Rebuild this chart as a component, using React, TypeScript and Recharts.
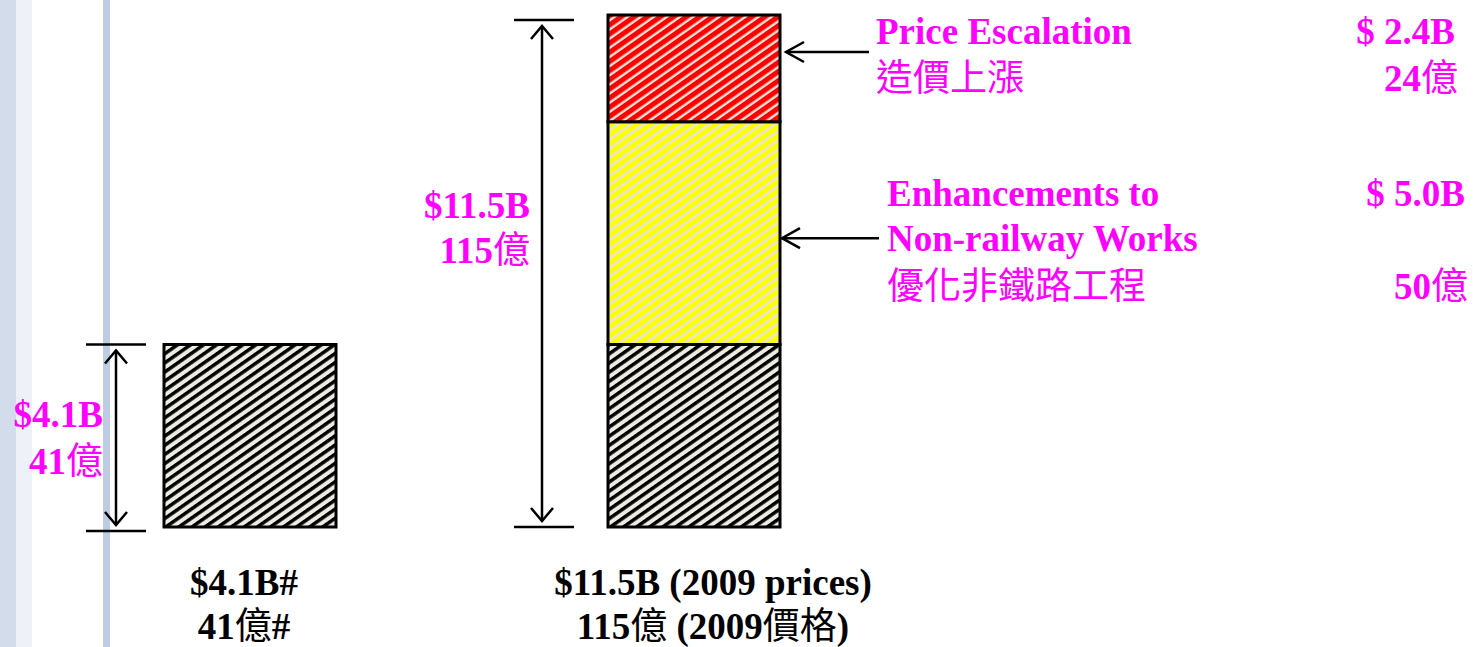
import React from 'react';
import { BarChart, Bar, XAxis, YAxis } from 'recharts';

// ---------- data ----------
const categories = ['$4.1B#', '$11.5B (2009 prices)'];
const categoriesZh = ['41億#', '115億 (2009價格)'];
const originalScope: (number | null)[] = [4.1, 4.1];
const enhancements: (number | null)[] = [null, 5.0];
const escalation: (number | null)[] = [null, 2.4];
const totals = [4.1, 11.5];
const totalLabelsEn = ['$4.1B', '$11.5B'];
const totalLabelsZh = ['41億', '115億'];
const escalationText = { en: ['Price Escalation'], zh: '造價上漲', valueEn: '$ 2.4B', valueZh: '24億' };
const enhancementText = { en: ['Enhancements to', 'Non-railway Works'], zh: '優化非鐵路工程', valueEn: '$ 5.0B', valueZh: '50億' };

const data = categories.map((name, i) => ({
  name,
  zh: categoriesZh[i],
  base: originalScope[i],
  enh: enhancements[i],
  esc: escalation[i],
  total: totals[i],
}));

// ---------- styles ----------
const FONT = '"Liberation Serif", "Times New Roman", "Noto Sans CJK TC", serif';
const MAGENTA = '#FF00FF';
const FS = 37;
const CJK = /[\u2e80-\u9fff\uf900-\ufaff\uff00-\uffef]/;

function splitRuns(s: string) {
  const out: { s: string; cjk: boolean }[] = [];
  for (const ch of s) {
    const c = CJK.test(ch);
    if (out.length && out[out.length - 1].cjk === c) out[out.length - 1].s += ch;
    else out.push({ s: ch, cjk: c });
  }
  return out;
}

function Mixed({ text, x, y, anchor = 'start', fill }: any) {
  return (
    <text x={x} y={y} textAnchor={anchor} fill={fill} fontSize={FS} fontFamily={FONT}>
      {splitRuns(text).map((r, i) => (
        <tspan
          key={i}
          fontWeight={r.cjk ? 400 : 700}
          fontFamily={r.cjk ? '"Noto Sans CJK TC", sans-serif' : FONT}
        >
          {r.s}
        </tspan>
      ))}
    </text>
  );
}

const LINE = { stroke: '#000', strokeWidth: 2.5, fill: 'none' };

function getBox(props: any) {
  const vb = props.viewBox && props.viewBox.width !== undefined ? props.viewBox : props;
  return { x: +vb.x, y: +vb.y, width: +vb.width, height: +vb.height };
}

const DIM = [
  { lineDx: -48, tickFrom: -78, tickTo: -18, topPad: 0, botPad: 4, textDx: -61, en: -9, zh: 38 },
  { lineDx: -66, tickFrom: -94, tickTo: -34, topPad: 5, botPad: 0, textDx: -78, en: -53, zh: -8 },
];

function DimLabel(props: any) {
  const { x, y, width, height } = getBox(props);
  if (!(height > 0)) return <g />;
  let i = props.index;
  if (i === undefined) i = x < 400 ? 0 : 1;
  const c = DIM[i];
  const top = y + c.topPad;
  const bot = y + height + c.botPad;
  const vx = x + c.lineDx;
  const mid = y + height / 2;
  return (
    <g>
      <line x1={x + c.tickFrom} x2={x + c.tickTo} y1={top} y2={top} {...LINE} />
      <line x1={x + c.tickFrom} x2={x + c.tickTo} y1={bot} y2={bot} {...LINE} />
      <line x1={vx} x2={vx} y1={top + 6} y2={bot - 6} {...LINE} />
      <polyline points={`${vx - 11},${top + 19} ${vx},${top + 6} ${vx + 11},${top + 19}`} {...LINE} />
      <polyline points={`${vx - 11},${bot - 19} ${vx},${bot - 6} ${vx + 11},${bot - 19}`} {...LINE} />
      <Mixed text={totalLabelsEn[i]} x={x + c.textDx} y={mid + c.en} anchor="end" fill={MAGENTA} />
      <Mixed text={totalLabelsZh[i]} x={x + c.textDx} y={mid + c.zh} anchor="end" fill={MAGENTA} />
    </g>
  );
}

function makeCallout(cfg: any) {
  return (props: any) => {
    const { x, y, width, height } = getBox(props);
    if (!(height > 0)) return <g />;
    const ay = cfg.arrowY(y, height);
    const right = x + width;
    const tip = right + cfg.tipDx;
    const t = cfg.text;
    return (
      <g>
        <line x1={tip} x2={right + cfg.tailDx} y1={ay} y2={ay} {...LINE} />
        <polyline points={`${tip + 18},${ay - 10} ${tip},${ay} ${tip + 18},${ay + 10}`} {...LINE} />
        {t.en.map((s: string, k: number) => (
          <Mixed key={k} text={s} x={right + cfg.textDx} y={ay + cfg.enDy[k]} fill={MAGENTA} />
        ))}
        <Mixed text={t.zh} x={right + cfg.textDx} y={ay + cfg.zhDy} fill={MAGENTA} />
        <Mixed text={t.valueEn} x={right + cfg.valueDx} y={ay + cfg.enDy[0]} anchor="end" fill={MAGENTA} />
        <Mixed text={t.valueZh} x={right + cfg.valueDx + 3} y={ay + cfg.zhDy} anchor="end" fill={MAGENTA} />
      </g>
    );
  };
}

const EscCallout = makeCallout({
  text: escalationText,
  arrowY: (y: number) => y + 37,
  tipDx: 6,
  tailDx: 89,
  textDx: 96,
  valueDx: 675,
  enDy: [-8],
  zhDy: 39,
});

const EnhCallout = makeCallout({
  text: enhancementText,
  arrowY: (y: number, h: number) => y + h / 2 + 5,
  tipDx: 2,
  tailDx: 99,
  textDx: 107,
  valueDx: 685,
  enDy: [-32, 13],
  zhDy: 61,
});

const TICK_DX = [-6, 19];

function CategoryTick(props: any) {
  const { x, y, index } = props;
  const i = index ?? 0;
  return (
    <g fill="#000">
      <Mixed text={categories[i]} x={x + TICK_DX[i]} y={y + 68} anchor="middle" fill="#000" />
      <Mixed text={categoriesZh[i]} x={x + TICK_DX[i]} y={y + 112} anchor="middle" fill="#000" />
    </g>
  );
}

function Hatch({ id, bg, fg, fgWidth }: any) {
  const P = 7.5;
  return (
    <pattern id={id} patternUnits="userSpaceOnUse" width={P} height={P} patternTransform="rotate(55)">
      <rect x={0} y={0} width={P} height={P} fill={bg} />
      <rect x={0} y={0} width={fgWidth} height={P} fill={fg} />
    </pattern>
  );
}

export default function App() {
  return (
    <div style={{ position: 'absolute', left: 0, top: 0, width: 1473, height: 647, overflow: 'hidden', background: '#fff' }}>
      <div style={{ position: 'absolute', left: 0, top: 0, width: 16, height: 647, background: '#D3DCEB' }} />
      <div style={{ position: 'absolute', left: 16, top: 0, width: 16, height: 647, background: '#EEF1F7' }} />
      <div style={{ position: 'absolute', left: 103, top: 0, width: 7, height: 647, background: '#BFCBE3' }} />
      <div style={{ position: 'absolute', left: 0, top: 0 }}>
        <BarChart
          width={1473}
          height={647}
          data={data}
          margin={{ top: 15, right: 557, left: 28, bottom: 0 }}
          barSize={172}
        >
          <defs>
            <Hatch id="hatchBlack" bg="#EEECE2" fg="#000" fgWidth={3.5} />
            <Hatch id="hatchYellow" bg="#E8E5D8" fg="#FFFF00" fgWidth={4.9} />
            <Hatch id="hatchRed" bg="#E8E5D8" fg="#FF0000" fgWidth={5.1} />
          </defs>
          <XAxis
            dataKey="name"
            height={120}
            axisLine={false}
            tickLine={false}
            tickSize={0}
            tickMargin={0}
            interval={0}
            tick={<CategoryTick />}
          />
          <XAxis xAxisId="total" dataKey="name" hide />
          <YAxis domain={[0, 11.5]} hide width={0} />
          <Bar dataKey="base" stackId="a" fill="url(#hatchBlack)" stroke="#000" strokeWidth={3} isAnimationActive={false} />
          <Bar dataKey="enh" stackId="a" fill="url(#hatchYellow)" stroke="#000" strokeWidth={3} isAnimationActive={false} label={EnhCallout} />
          <Bar dataKey="esc" stackId="a" fill="url(#hatchRed)" stroke="#000" strokeWidth={3} isAnimationActive={false} label={EscCallout} />
          <Bar dataKey="total" xAxisId="total" fill="none" stroke="none" isAnimationActive={false} label={DimLabel} />
        </BarChart>
      </div>
    </div>
  );
}
